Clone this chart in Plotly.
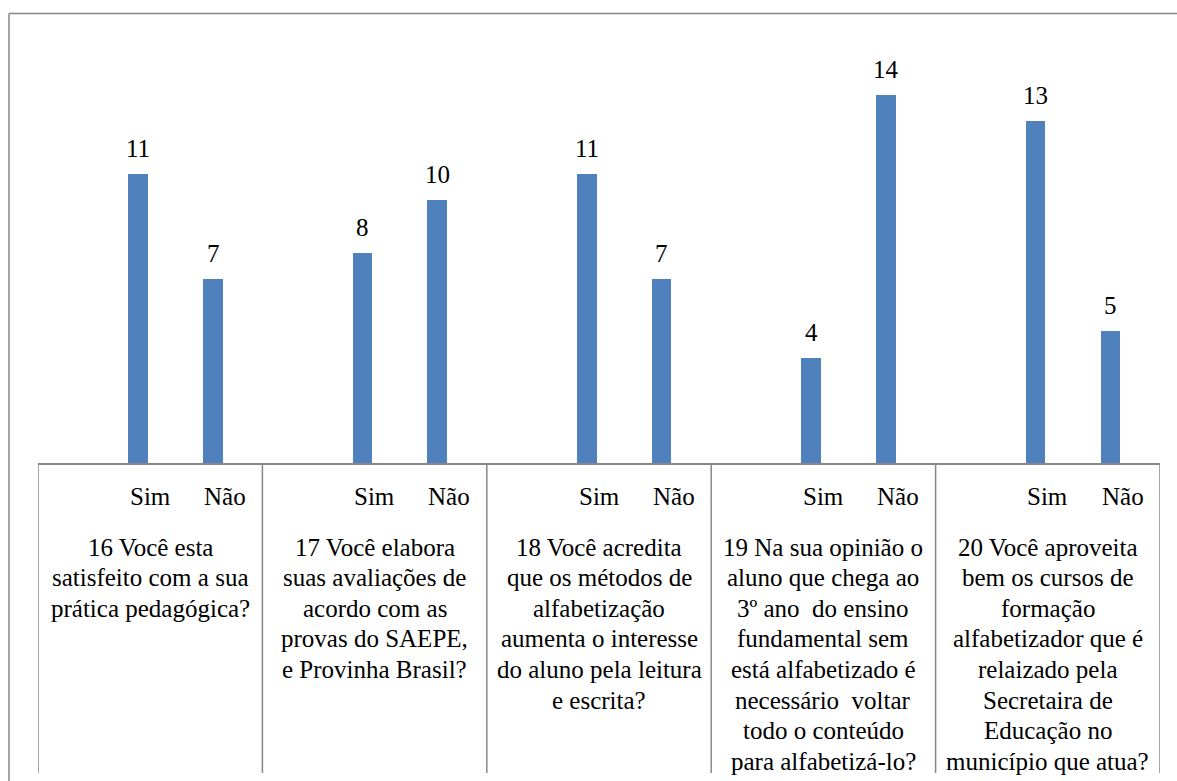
import plotly.graph_objects as go

# ---- data ----
groups = [
    ["16 Você esta", "satisfeito com a sua", "prática pedagógica?"],
    ["17 Você elabora", "suas avaliações de", "acordo com as", "provas do SAEPE,", "e Provinha Brasil?"],
    ["18 Você acredita", "que os métodos de", "alfabetização", "aumenta o interesse",
     "do aluno pela leitura", "e escrita?"],
    ["19 Na sua opinião o", "aluno que chega ao", "3º ano\u00a0 do ensino", "fundamental sem",
     "está alfabetizado é", "necessário\u00a0 voltar", "todo o conteúdo", "para alfabetizá-lo?"],
    ["20 Você aproveita", "bem os cursos de", "formação", "alfabetizador que é",
     "relaizado pela", "Secretaira de", "Educação no", "município que atua?"],
]
answers = ["Sim", "Não"]
sim_values = [11, 8, 11, 4, 13]
nao_values = [7, 10, 7, 14, 5]

FONT = "Times New Roman, Liberation Serif, DejaVu Serif, serif"
FS = 25
BAR_COLOR = "#4F81BD"
LINE_COLOR = "#878787"

# slot positions: each group has 3 slots (blank, Sim, Não)
xs, ys = [], []
for g in range(len(groups)):
    xs += [3 * g + 1, 3 * g + 2]
    ys += [sim_values[g], nao_values[g]]

fig = go.Figure()
fig.add_trace(go.Bar(
    x=xs, y=ys, marker=dict(color=BAR_COLOR, line=dict(width=0)),
    width=0.264, offset=-0.295, hoverinfo="skip", showlegend=False,
))

# px helpers for layout outside plot
L, R_PX, T, B_PX = 38, 1160, 42, 463
def py(p):
    return (B_PX - p) / (B_PX - T)
def px(p):
    return (p - L) / (R_PX - L)

annotations = []
# data labels
for x, v in zip(xs, ys):
    annotations.append(dict(
        x=x - 0.16, y=v, xref="x", yref="y", text=str(v), showarrow=False,
        yanchor="bottom", yshift=10, font=dict(family=FONT, size=FS, color="#000000"),
    ))
# inner labels
for g in range(len(groups)):
    for k, a in enumerate(answers):
        annotations.append(dict(
            x=3 * g + 1 + k, y=py(496), xref="x", yref="paper", text=a, showarrow=False,
            yanchor="middle", font=dict(family=FONT, size=FS, color="#000000"),
        ))
    for i, line in enumerate(groups[g]):
        annotations.append(dict(
            x=3 * g + 1, y=py(547 + 30.6 * i), xref="x", yref="paper", text=line,
            showarrow=False, yanchor="middle",
            font=dict(family=FONT, size=FS, color="#000000"),
        ))

shapes = []
# group dividers
for g in range(len(groups) + 1):
    shapes.append(dict(
        type="line", xref="x", yref="paper", x0=3 * g - 0.5, x1=3 * g - 0.5,
        y0=0, y1=py(773), line=dict(color=LINE_COLOR, width=1.5),
    ))
# outer chart border (left and top visible)
shapes.append(dict(type="line", xref="paper", yref="paper", x0=px(9), x1=px(9),
                   y0=py(13.5), y1=py(800), line=dict(color=LINE_COLOR, width=1.5)))
shapes.append(dict(type="line", xref="paper", yref="paper", x0=px(9), x1=px(1200),
                   y0=py(13.5), y1=py(13.5), line=dict(color=LINE_COLOR, width=1.5)))

fig.update_layout(
    width=1177, height=781,
    margin=dict(l=L, r=1177 - R_PX, t=T, b=781 - B_PX),
    paper_bgcolor="white", plot_bgcolor="white",
    font=dict(family=FONT),
    xaxis=dict(range=[-0.5, 14.5], showgrid=False, zeroline=False, showticklabels=False,
               ticks="", showline=True, linecolor=LINE_COLOR, linewidth=1.5, fixedrange=True),
    yaxis=dict(range=[0, 16], showgrid=False, zeroline=False, showticklabels=False,
               ticks="", showline=False, fixedrange=True),
    annotations=annotations, shapes=shapes, bargap=0, showlegend=False,
)

fig.write_html("out.html")
